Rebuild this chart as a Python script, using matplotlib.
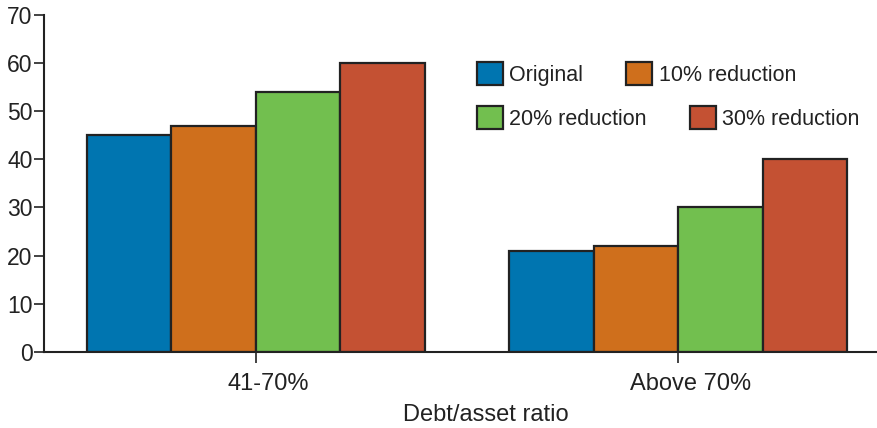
import numpy as np
import matplotlib
matplotlib.use("Agg")
import matplotlib.pyplot as plt
import matplotlib.transforms as mtransforms
from matplotlib.patches import Patch

groups = ["41-70%", "Above 70%"]
series = ["Original", "10% reduction", "20% reduction", "30% reduction"]
values = [
    [45, 21],
    [47, 22],
    [54, 30],
    [60, 40],
]
colors = ["#0075b0", "#cf6f1c", "#72bf4f", "#c45133"]
ink = "#222222"

plt.rcParams["font.family"] = ["Liberation Sans", "DejaVu Sans"]
plt.rcParams["text.color"] = ink
plt.rcParams["axes.labelcolor"] = ink
plt.rcParams["xtick.color"] = ink
plt.rcParams["ytick.color"] = ink

fig = plt.figure(figsize=(8.77, 4.28), dpi=100)
ax = fig.add_axes([0.050, 0.178, 0.95, 0.787])

x = np.arange(len(groups))
width = 0.2
for i, (name, vals) in enumerate(zip(series, values)):
    ax.bar(x + (i - 1.5) * width, vals, width, color=colors[i],
           edgecolor=ink, linewidth=1.6, label=name, zorder=2)

ax.set_xlim(-0.502, 1.47)
ax.set_ylim(0, 70)
ax.set_yticks(range(0, 71, 10))
ax.set_xticks(x)
ax.set_xticklabels(groups)
ax.set_xlabel("Debt/asset ratio", fontsize=17, labelpad=9)
ax.xaxis.set_label_coords(0.531, -0.155)

for s in ["top", "right"]:
    ax.spines[s].set_visible(False)
for s in ["left", "bottom"]:
    ax.spines[s].set_color(ink)
    ax.spines[s].set_linewidth(1.5)
ax.tick_params(axis="y", labelsize=16.5, length=7, width=1.2, pad=1)
ax.tick_params(axis="x", labelsize=17, length=8, width=1.2, pad=7)

# tick labels sit a little right of their ticks in the original
shift = mtransforms.ScaledTranslation(0.12, 0, fig.dpi_scale_trans)
for lbl in ax.get_xticklabels():
    lbl.set_transform(lbl.get_transform() + shift)

def make_handles(idx):
    return [Patch(facecolor=colors[i], edgecolor=ink, linewidth=1.6) for i in idx]

leg_kw = dict(ncol=2, frameon=False, fontsize=15.5, handlelength=1.2,
              handleheight=1.25, handletextpad=0.3, columnspacing=2.0,
              borderpad=0, borderaxespad=0, loc="upper left")
leg1 = ax.legend(make_handles([0, 1]), series[0:2],
                 bbox_to_anchor=(477 / 877, 1 - 62 / 428),
                 bbox_transform=fig.transFigure, **leg_kw)
ax.add_artist(leg1)
ax.legend(make_handles([2, 3]), series[2:4],
          bbox_to_anchor=(477 / 877, 1 - 106 / 428),
          bbox_transform=fig.transFigure, **leg_kw)

fig.savefig("out.png", dpi=100)
